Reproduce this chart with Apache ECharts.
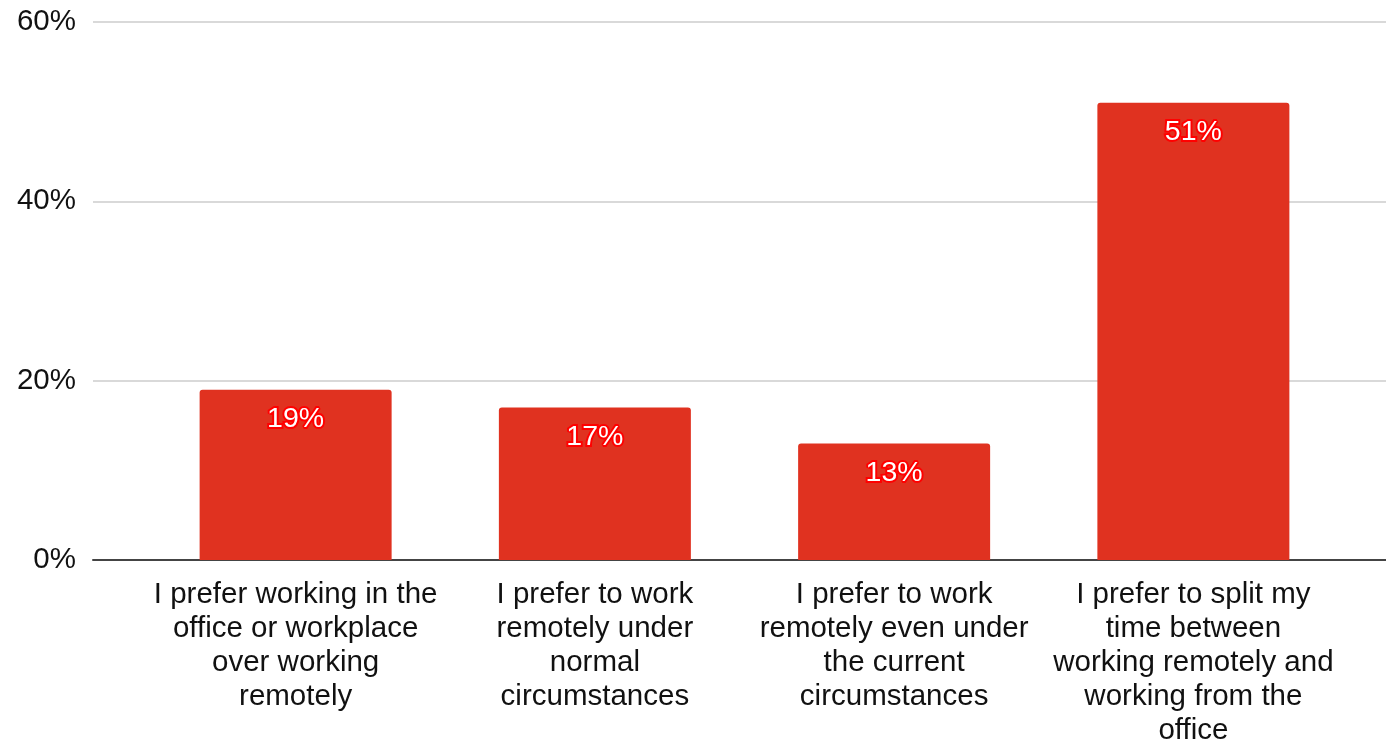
<!DOCTYPE html>
<html>
<head>
<meta charset="utf-8">
<script src="https://cdn.jsdelivr.net/npm/echarts@6/dist/echarts.min.js"></script>
<style>
html,body{margin:0;padding:0;background:#fff;}
#chart{width:1386px;height:741px;}
</style>
</head>
<body>
<div id="chart"></div>
<script>
const categories = [
  "I prefer working in the\noffice or workplace\nover working\nremotely",
  "I prefer to work\nremotely under\nnormal\ncircumstances",
  "I prefer to work\nremotely even under\nthe current\ncircumstances",
  "I prefer to split my\ntime between\nworking remotely and\nworking from the\noffice"
];
const values = [19, 17, 13, 51];
const yTicks = [0, 20, 40, 60];

const font = "Liberation Sans";
const chart = echarts.init(document.getElementById('chart'));
chart.setOption({
  backgroundColor: '#fff',
  animation: false,
  grid: [
    { left: 93, right: 0, top: 22, bottom: 181, outerBoundsMode: 'none', containLabel: false },
    { left: 146, right: 43, top: 22, bottom: 181, outerBoundsMode: 'none', containLabel: false }
  ],
  xAxis: [
    { gridIndex: 0, type: 'value', min: 0, max: 1,
      axisLine: { show: true, onZero: true, lineStyle: { color: '#444', width: 2 } },
      axisTick: { show: false }, axisLabel: { show: false }, splitLine: { show: false } },
    { gridIndex: 1, type: 'category', data: categories,
      axisLine: { show: false }, axisTick: { show: false },
      axisLabel: { interval: 0, color: '#111', fontFamily: font, fontSize: 29.5,
        lineHeight: 34, margin: 18, align: 'center' } }
  ],
  yAxis: [
    { gridIndex: 0, type: 'value', min: yTicks[0], max: yTicks[yTicks.length - 1], interval: 20,
      axisLine: { show: false }, axisTick: { show: false },
      axisLabel: { formatter: '{value}%', color: '#111', fontFamily: font, fontSize: 29.5, margin: 17,
        padding: [3, 0, 0, 0] },
      splitLine: { show: true, lineStyle: { color: '#ccc', width: 1.5 } } },
    { gridIndex: 1, type: 'value', min: 0, max: 60, show: false }
  ],
  series: [{
    type: 'bar',
    xAxisIndex: 1, yAxisIndex: 1,
    data: values,
    barWidth: 192,
    itemStyle: { color: '#e03220', borderRadius: [3, 3, 0, 0] },
    label: {
      show: true, position: 'insideTop', distance: 15,
      formatter: '{c}%', color: '#fff', fontFamily: font, fontSize: 28.5,
      textBorderColor: '#ff0000', textBorderWidth: 4
    }
  }]
});
</script>
</body>
</html>
